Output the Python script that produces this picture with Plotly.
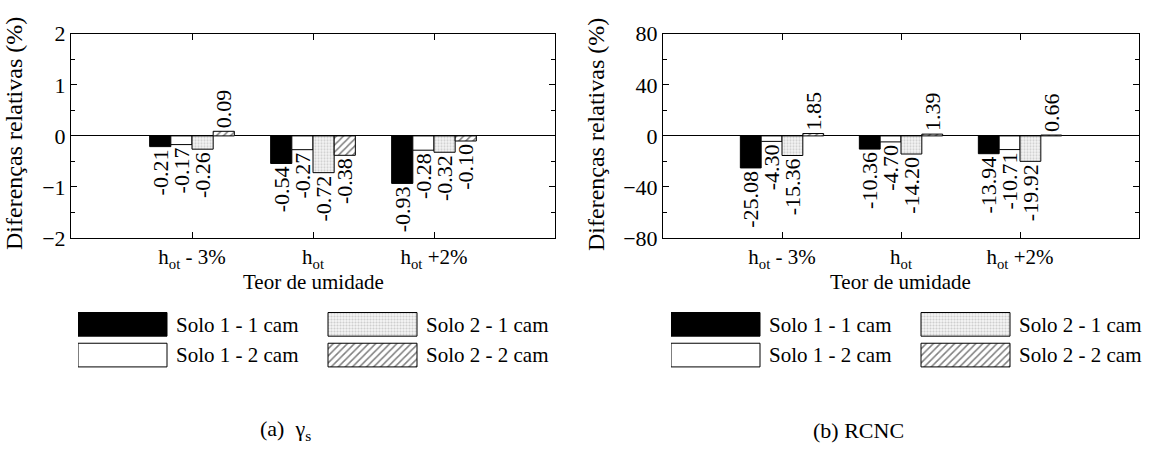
import plotly.graph_objects as go

# ---------------- data ----------------
categories = ["h<sub>ot</sub> - 3%", "h<sub>ot</sub>", "h<sub>ot</sub> +2%"]
series_names = ["Solo 1 - 1 cam", "Solo 1 - 2 cam", "Solo 2 - 1 cam", "Solo 2 - 2 cam"]

gamma_s11 = [-0.21, -0.54, -0.93]
gamma_s12 = [-0.17, -0.27, -0.28]
gamma_s21 = [-0.26, -0.72, -0.32]
gamma_s22 = [0.09, -0.38, -0.10]

rcnc_s11 = [-25.08, -10.36, -13.94]
rcnc_s12 = [-4.30, -4.70, -10.71]
rcnc_s21 = [-15.36, -14.20, -19.92]
rcnc_s22 = [1.85, 1.39, 0.66]

gamma_ticks = [-2, -1, 0, 1, 2]
rcnc_ticks = [-80, -40, 0, 40, 80]

gamma_series = [gamma_s11, gamma_s12, gamma_s21, gamma_s22]
rcnc_series = [rcnc_s11, rcnc_s12, rcnc_s21, rcnc_s22]

# ---------------- styles ----------------
FONT = "Liberation Serif, Times New Roman, serif"
W, H = 1151, 461

markers = [
    dict(color="black", line=dict(color="black", width=1)),
    dict(color="white", line=dict(color="black", width=1)),
    dict(color="#eeeeee", line=dict(color="black", width=1),
         pattern=dict(shape=".", fgcolor="#a6a6a6", bgcolor="#f4f4f4", size=3, solidity=0.4)),
    dict(color="white", line=dict(color="black", width=1),
         pattern=dict(shape="/", fgcolor="black", bgcolor="white", size=5, solidity=0.3)),
]


def px_x(p):
    return p / W


def px_y(p):
    return 1 - p / H


fig = go.Figure()

# main bars
for i, name in enumerate(series_names):
    for vals, xa, ya in ((gamma_series[i], "x", "y"), (rcnc_series[i], "x2", "y2")):
        fig.add_trace(go.Bar(
            x=categories, y=vals, name=name, marker=markers[i],
            texttemplate="%{y:.2f}", textposition="outside", textangle=-90,
            textfont=dict(family=FONT, size=22, color="black"),
            constraintext="none", cliponaxis=False, showlegend=False,
            xaxis=xa, yaxis=ya))

frame_l = (71, 555)
frame_r = (663, 1139)
frame_top, frame_bot = 23, 239

# legend swatches drawn as bars on hidden axes
legend_slots = [(0, 1), (0, 0), (1, 1), (1, 0)]  # (column, row)
col_off = [0, 250]
sw = 89
leg_x0 = {"3": 78, "4": 671}
leg_y0, leg_y1 = 314, 379
row_center = {1: 330.5, 0: 363}

for i, name in enumerate(series_names):
    c, r = legend_slots[i]
    for ax in ("3", "4"):
        fig.add_trace(go.Bar(
            x=[sw], y=[r], base=[col_off[c]], orientation="h", width=0.77,
            offsetgroup="leg" + ax, marker=markers[i], showlegend=False,
            hoverinfo="skip", xaxis="x" + ax, yaxis="y" + ax))

annotations = []
for i, name in enumerate(series_names):
    c, r = legend_slots[i]
    for ax in ("3", "4"):
        annotations.append(dict(
            x=px_x(leg_x0[ax] + col_off[c] + sw + 7), y=px_y(row_center[r]),
            xref="paper", yref="paper",
            text=name, showarrow=False, xanchor="left", yanchor="middle",
            font=dict(family=FONT, size=21, color="black")))

# axis titles & captions
ytitle = "Diferenças relativas (%)"
annotations += [
    dict(x=px_x(14), y=px_y(129), xref="paper", yref="paper", text=ytitle,
         textangle=-90, showarrow=False, xanchor="center", yanchor="middle",
         font=dict(family=FONT, size=24, color="black")),
    dict(x=px_x(596), y=px_y(129), xref="paper", yref="paper", text=ytitle,
         textangle=-90, showarrow=False, xanchor="center", yanchor="middle",
         font=dict(family=FONT, size=24, color="black")),
    dict(x=px_x(sum(frame_l) / 2), y=px_y(286), xref="paper", yref="paper", text="Teor de umidade",
         showarrow=False, xanchor="center", yanchor="middle",
         font=dict(family=FONT, size=21, color="black")),
    dict(x=px_x(sum(frame_r) / 2), y=px_y(286), xref="paper", yref="paper", text="Teor de umidade",
         showarrow=False, xanchor="center", yanchor="middle",
         font=dict(family=FONT, size=21, color="black")),
    dict(x=px_x(285), y=px_y(442), xref="paper", yref="paper",
         text="(a)\u00a0\u00a0\u03b3<sub>s</sub>", xanchor="center", yanchor="middle",
         showarrow=False, font=dict(family=FONT, size=22, color="black")),
    dict(x=px_x(858), y=px_y(442), xref="paper", yref="paper", text="(b) RCNC",
         xanchor="center", yanchor="middle",
         showarrow=False, font=dict(family=FONT, size=22, color="black")),
]

xcommon = dict(type="category", range=[-1, 3], showline=True, linecolor="black", linewidth=1,
               mirror="ticks", ticks="inside", ticklen=6, tickcolor="black", showgrid=False,
               tickfont=dict(family=FONT, size=21, color="black"), zeroline=False, fixedrange=True)
ycommon = dict(showline=True, linecolor="black", linewidth=1, mirror="ticks", ticks="inside",
               ticklen=6, tickcolor="black", showgrid=False, zeroline=True, zerolinecolor="black",
               zerolinewidth=1, tickfont=dict(family=FONT, size=22, color="black"), fixedrange=True)

fig.update_layout(
    width=W, height=H, autosize=False,
    margin=dict(l=0, r=0, t=0, b=0),
    paper_bgcolor="white", plot_bgcolor="white",
    barmode="group", bargap=0.30, bargroupgap=0.0,
    font=dict(family=FONT, color="black"),
    xaxis=dict(domain=[px_x(frame_l[0]), px_x(frame_l[1])], anchor="y", **xcommon),
    xaxis2=dict(domain=[px_x(frame_r[0]), px_x(frame_r[1])], anchor="y2", **xcommon),
    yaxis=dict(domain=[px_y(frame_bot), px_y(frame_top)], anchor="x", range=[-2, 2],
               tickvals=gamma_ticks, minor=dict(dtick=0.5, ticks="inside", ticklen=4, tickcolor="black"),
               **ycommon),
    yaxis2=dict(domain=[px_y(frame_bot), px_y(frame_top)], anchor="x2", range=[-80, 80],
                tickvals=rcnc_ticks, minor=dict(dtick=20, ticks="inside", ticklen=4, tickcolor="black"),
                **ycommon),
    xaxis3=dict(domain=[px_x(leg_x0["3"]), px_x(leg_x0["3"] + 340)], range=[0, 340],
                anchor="y3", visible=False, fixedrange=True),
    yaxis3=dict(domain=[px_y(leg_y1), px_y(leg_y0)], range=[-0.5, 1.5], anchor="x3",
                visible=False, fixedrange=True),
    xaxis4=dict(domain=[px_x(leg_x0["4"]), px_x(leg_x0["4"] + 340)], range=[0, 340],
                anchor="y4", visible=False, fixedrange=True),
    yaxis4=dict(domain=[px_y(leg_y1), px_y(leg_y0)], range=[-0.5, 1.5], anchor="x4",
                visible=False, fixedrange=True),
    annotations=annotations,
)

fig.write_html("out.html")
